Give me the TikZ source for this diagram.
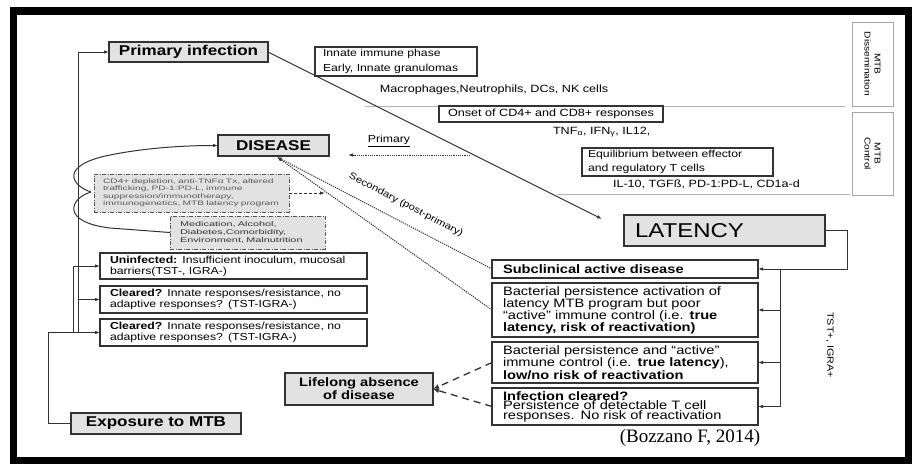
\documentclass[tikz,border=0pt]{standalone}
\usepackage{fontspec}
\setmainfont{Liberation Sans}[FakeStretch=1.2]
\newfontfamily\widef{Liberation Sans}[FakeStretch=1.6]
\newfontfamily\serf{Liberation Serif}
\usetikzlibrary{arrows.meta}
\definecolor{boxgray}{HTML}{E2E2E2}
\definecolor{edge}{HTML}{333333}
\begin{document}
\begin{tikzpicture}[x=1pt,y=-1pt,
  every node/.style={inner sep=0pt, outer sep=0pt},
  bx/.style={draw=edge, line width=1.1pt, fill=white, text=black},
  gbx/.style={bx, fill=boxgray},
  ddbox/.style={draw=edge!85, line width=0.9pt, fill=boxgray, dash pattern=on 4pt off 1.5pt on 1pt off 1.5pt},
  mtbbox/.style={draw=gray!70, line width=0.8pt, fill=white, rotate=-90, align=center, font=\fontsize{8.5}{10}\selectfont},
  sm/.style={font=\fontsize{10.5}{12}\selectfont},
  tip/.style={-{Latex[length=5pt,width=3.6pt]}},
  arr/.style={draw=edge, line width=1pt, tip},
  ln/.style={draw=edge, line width=1pt},
  gline/.style={draw=gray!60, line width=0.7pt},
  dotarr/.style={draw=edge, line width=1pt, dash pattern=on 1.2pt off 1pt, tip},
  dasharr/.style={draw=edge, line width=0.9pt, dash pattern=on 3pt off 2pt, tip},
  ldash/.style={draw=edge, line width=1.3pt, dash pattern=on 7pt off 5pt, -{Latex[length=6pt,width=5pt]}}
]
\useasboundingbox (0,0) rectangle (912,464);
\fill[white] (0,0) rectangle (912,464);
\fill[black] (10,7) rectangle (912,464);
\fill[white] (17,15) rectangle (905,457);

% gray separator lines
\coordinate (g1a) at (365,106.5); \coordinate (g1b) at (845,106.5);
\coordinate (g2a) at (557,194.5); \coordinate (g2b) at (850,194.5);
\draw[gline] (g1a) -- (g1b);
\draw[gline] (g2a) -- (g2b);

% top-left
\node[gbx, minimum width=159pt, minimum height=20pt, font=\bfseries\fontsize{14.2}{16}\selectfont] (primary) at (188.5,52) {Primary infection};
\node[gbx, minimum width=111pt, minimum height=21pt, font=\bfseries\fontsize{14.2}{16}\selectfont] (disease) at (273.5,145.5) {DISEASE};

% immune phases
\node[bx, minimum height=29pt, text width=146pt, inner xsep=8pt, align=left, font=\fontsize{10.2}{15}\selectfont] (innate) at (396,61.5) {Innate immune phase\\Early, Innate granulomas};
\node[sm] (macro) at (494,90) {Macrophages,Neutrophils, DCs, NK cells};
\node[bx, sm, minimum width=224pt, minimum height=16pt] (onset) at (551,114) {Onset of CD4+ and CD8+ responses};
\node[sm, anchor=west] (tnf) at (553,132) {TNF\textsubscript{α}, IFN\textsubscript{γ}, IL12,};
\node[bx, minimum height=28pt, text width=179pt, inner xsep=6pt, align=left, font=\fontsize{10.2}{14}\selectfont] (equil) at (677.5,162) {Equilibrium between effector\\and regulatory T cells};
\node[sm, anchor=west] (il10) at (613,184) {IL-10, TGFß, PD-1:PD-L, CD1a-d};

\node[mtbbox, minimum width=84pt, minimum height=41pt] (dissem) at (872.5,64) {MTB\\Dissemination};
\node[mtbbox, minimum width=83pt, minimum height=41pt] (control) at (872.5,153.5) {MTB\\Control};

% latency
\node[gbx, minimum height=31pt, text width=179pt, inner xsep=11pt, align=left, font=\fontsize{20}{24}\selectfont] (latency) at (724.5,230.5) {LATENCY};

% risk factor boxes
\node[ddbox, minimum height=38pt, text width=177pt, inner xsep=9pt, align=left, text=black!65, font=\widef\fontsize{6.4}{7.4}\selectfont] (cd4) at (191.5,193) {CD4+ depletion, anti-TNFα Tx, altered\\trafficking, PD-1:PD-L, immune\\suppression/immunotherapy,\\immunogenetics, MTB latency program};
\node[ddbox, minimum height=33pt, text width=135pt, inner xsep=10pt, align=left, text=black!80, font=\widef\fontsize{6.8}{7.6}\selectfont] (med) at (247.5,232.5) {Medication, Alcohol,\\Diabetes,Comorbidity,\\Environment, Malnutrition};

% left outcome boxes
\node[bx, minimum height=26pt, text width=247pt, inner xsep=10pt, align=left, font=\fontsize{10.2}{11}\selectfont] (uninf) at (233.5,266) {\textbf{Uninfected:} Insufficient inoculum, mucosal\\barriers(TST-, IGRA-)};
\node[bx, minimum height=27pt, text width=247pt, inner xsep=10pt, align=left, font=\fontsize{10.2}{11}\selectfont] (clear1) at (233.5,299.5) {\textbf{Cleared?} Innate responses/resistance, no\\adaptive responses? (TST-IGRA-)};
\node[bx, minimum height=27pt, text width=247pt, inner xsep=10pt, align=left, font=\fontsize{10.2}{11}\selectfont] (clear2) at (233.5,332.5) {\textbf{Cleared?} Innate responses/resistance, no\\adaptive responses? (TST-IGRA-)};
\node[gbx, minimum width=170pt, minimum height=21pt, font=\bfseries\fontsize{14.2}{16}\selectfont] (exposure) at (156,423.5) {Exposure to MTB};
\node[gbx, minimum width=148pt, minimum height=32pt, align=center, font=\bfseries\fontsize{12.2}{13}\selectfont] (lifelong) at (359,389) {Lifelong absence\\of disease};

% right outcome boxes
\node[bx, minimum height=18pt, text width=244pt, inner xsep=11pt, align=left, font=\bfseries\fontsize{12.2}{13}\selectfont] (subclin) at (625,269) {Subclinical active disease};
\node[bx, minimum height=54pt, text width=244pt, inner xsep=11pt, align=left, font=\fontsize{12.2}{12}\selectfont] (bact1) at (625,310) {Bacterial persistence activation of\\latency MTB program but poor\\“active” immune control (i.e. \textbf{true}\\\textbf{latency, risk of reactivation)}};
\node[bx, minimum height=41pt, text width=244pt, inner xsep=11pt, align=left, font=\fontsize{12.2}{10.5}\selectfont] (bact2) at (625,362.5) {Bacterial persistence and “active”\\immune control (i.e. \textbf{true latency}),\\\textbf{low/no risk of reactivation}};
\node[bx, minimum height=37pt, text width=244pt, inner xsep=11pt, align=left, font=\fontsize{12.2}{9.6}\selectfont] (infcl) at (625,406.5) {\textbf{Infection cleared?}\\Persistence of detectable T cell\\responses. No risk of reactivation};

% labels
\node[font=\fontsize{10.2}{12}\selectfont] (primlab) at (389,141) {\underline{Primary}};
\node[rotate=-27.6, font=\fontsize{9.4}{11}\selectfont] (seclab) at (406,205) {Secondary (post-primary)};
\node[rotate=-90, font=\fontsize{9}{10}\selectfont] (tst) at (830,345) {TST+, IGRA+};
\node[font=\serf\fontsize{19}{21}\selectfont] (cite) at (690,438) {(Bozzano F, 2014)};

% coordinates
\coordinate (diagend) at (602,219);
\coordinate (pa) at (470,155); \coordinate (pb) at (348,155);
\coordinate (dsb) at (277,157);
\coordinate (cdend) at (325,193);
\coordinate (cusp) at (91,192);
\coordinate (ex1) at (48,423.5);
\coordinate (j78) at (78,332.5);
\coordinate (j73) at (73,332.5);
\coordinate (c1) at (78,299.5);
\coordinate (lr) at (847,230.5);
\coordinate (v1) at (780,269);
\coordinate (v2) at (780,406.5);
\coordinate (b1) at (780,310);
\coordinate (b2) at (780,362.5);

% connectors
\draw[arr] (primary.east) -- (diagend);
\draw[dotarr] (pa) -- (pb);
\draw[dotarr] (subclin.west) -- (dsb);
\draw[dotarr] (bact1.west) -- (dsb);
\draw[dasharr] (cd4.east) -- (cdend);
\draw[arr] (cusp) .. controls (70,185) and (60,165) .. (110,155) .. controls (150,147) and (190,145.5) .. (disease.west);
\draw[ln] (cusp) .. controls (70,198) and (60,222) .. (110,228) .. controls (140,231) .. (med.west);

\draw[arr] (exposure.west) -- (ex1) |- (clear2.west);
\draw[arr] (j78) |- (primary.west);
\draw[arr] (j73) |- (uninf.west);
\draw[arr] (c1) -- (clear1.west);

\draw[arr] (latency.east) -- (lr) |- (subclin.east);
\draw[ln] (v1) -- (v2);
\draw[arr] (b1) -- (bact1.east);
\draw[arr] (b2) -- (bact2.east);
\draw[arr] (v2) -- (infcl.east);

\draw[ldash] (bact2.west) -- (lifelong.east);
\draw[ldash] (infcl.west) -- (lifelong.east);
\end{tikzpicture}
\end{document}
